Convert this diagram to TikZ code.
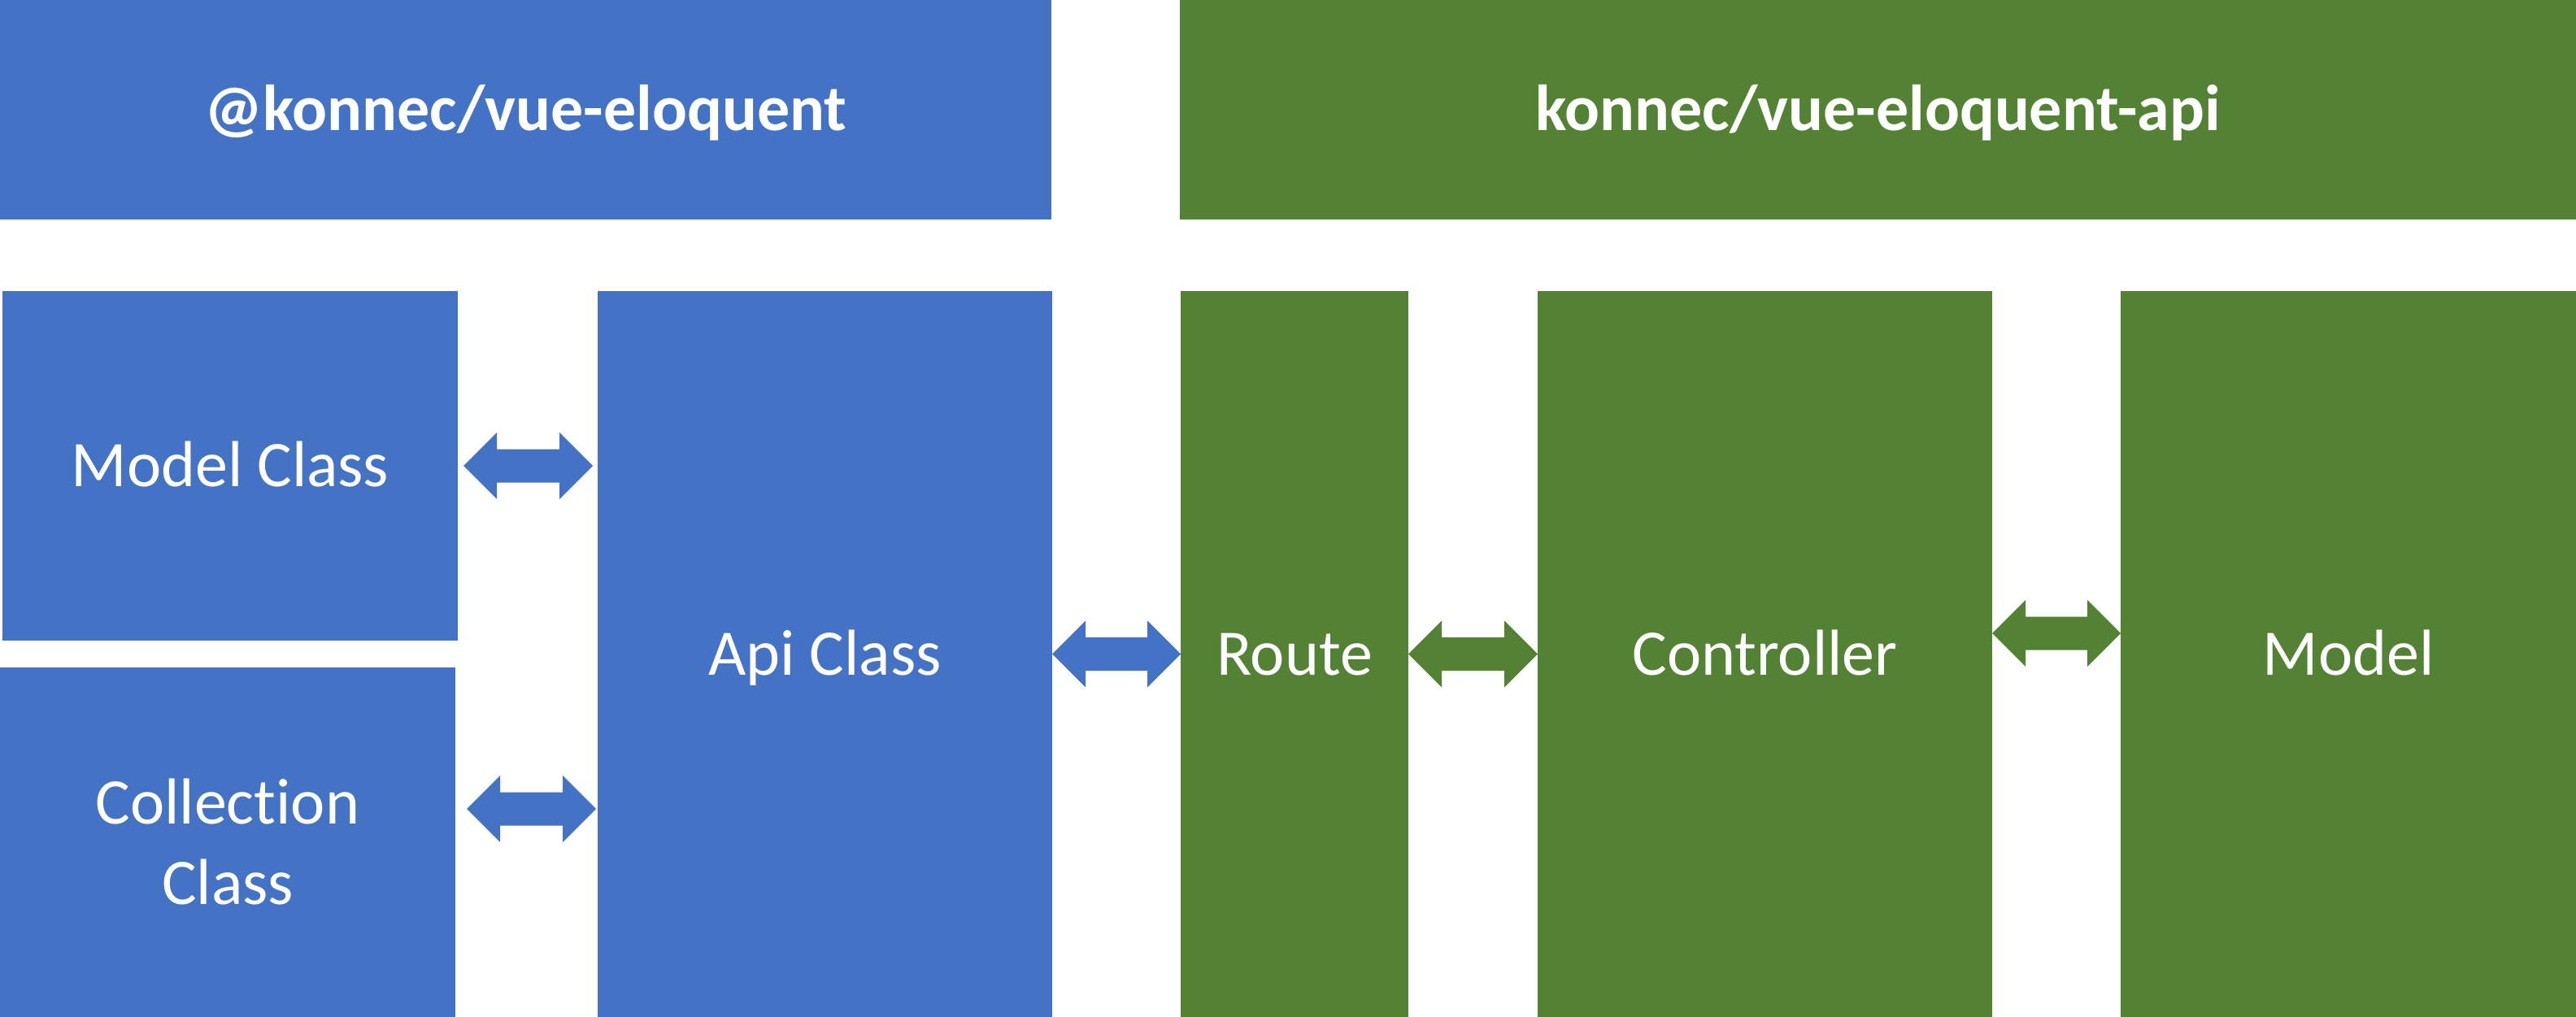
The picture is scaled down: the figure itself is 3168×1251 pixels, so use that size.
\documentclass[tikz,border=0pt]{standalone}
\usepackage{fontspec}
\setmainfont[Ligatures=NoCommon]{Carlito}
\usetikzlibrary{calc}
\definecolor{cblue}{HTML}{4472C4}
\definecolor{cgreen}{HTML}{548235}
\tikzset{
  box/.style={inner sep=0pt, outer sep=0pt, draw=none, text=white, align=center,
    font=\fontsize{40}{49.5}\selectfont, text height=36pt, text depth=10.24pt},
  twoline/.style={box, text height={}, text depth={}},
  titlebox/.style={box, font=\fontsize{40}{49.5}\selectfont\bfseries}
}
% \bx[style]{name}{x1}{y1}{x2}{y2}{color}{text}
\newcommand\bx[8][box]{%
  \node[#1, fill=#7, minimum width={(#5-#3)*0.5pt}, minimum height={(#6-#4)*0.5pt}]
    (#2) at ({(#3+#5)/2},{(#4+#6)/2}) {#8};}
% \dblarrow{color}{start point}{end point (x only)}
\newcommand\dblarrow[3]{%
  \fill[#1] let \p1=#2, \p2=#3 in
    (\x1,\y1) -- ++(20.5pt,20.5pt) -- ++(0,-10.25pt) -- (\x2-20.5pt,\y1+10.25pt)
    -- ++(0,10.25pt) -- (\x2,\y1) -- (\x2-20.5pt,\y1-20.5pt) -- ++(0,10.25pt)
    -- (\x1+20.5pt,\y1-10.25pt) -- ++(0,-10.25pt) -- cycle;}
\begin{document}
\begin{tikzpicture}[x=0.5pt,y=-0.5pt]
\useasboundingbox (0,0) rectangle (3168,1251);
\bx[titlebox]{ve}{0}{0}{1293}{270}{cblue}{@konnec/vue-eloquent}
\bx[titlebox]{vea}{1451}{0}{3168}{270}{cgreen}{konnec/vue-eloquent-api}
\bx{mc}{3}{358}{563}{788}{cblue}{Model Class}
\bx[twoline]{cc}{0}{821}{560}{1251}{cblue}{Collection\\Class}
\bx{api}{735}{358}{1294}{1251}{cblue}{Api Class}
\bx{route}{1452}{358}{1732}{1251}{cgreen}{Route}
\bx{ctrl}{1891}{358}{2450}{1251}{cgreen}{Controller}
\bx{model}{2608}{358}{3168}{1251}{cgreen}{Model}
\dblarrow{cblue}{($(mc.east)+(7,0)$)}{($(api.west)+(-6,0)$)}
\dblarrow{cblue}{($(cc.east)+(14,-41)$)}{($(api.west)+(-2,0)$)}
\dblarrow{cblue}{(api.east)}{(route.west)}
\dblarrow{cgreen}{(route.east)}{(ctrl.west)}
\dblarrow{cgreen}{($(ctrl.east)+(0,-25.5)$)}{(model.west)}
\end{tikzpicture}
\end{document}
